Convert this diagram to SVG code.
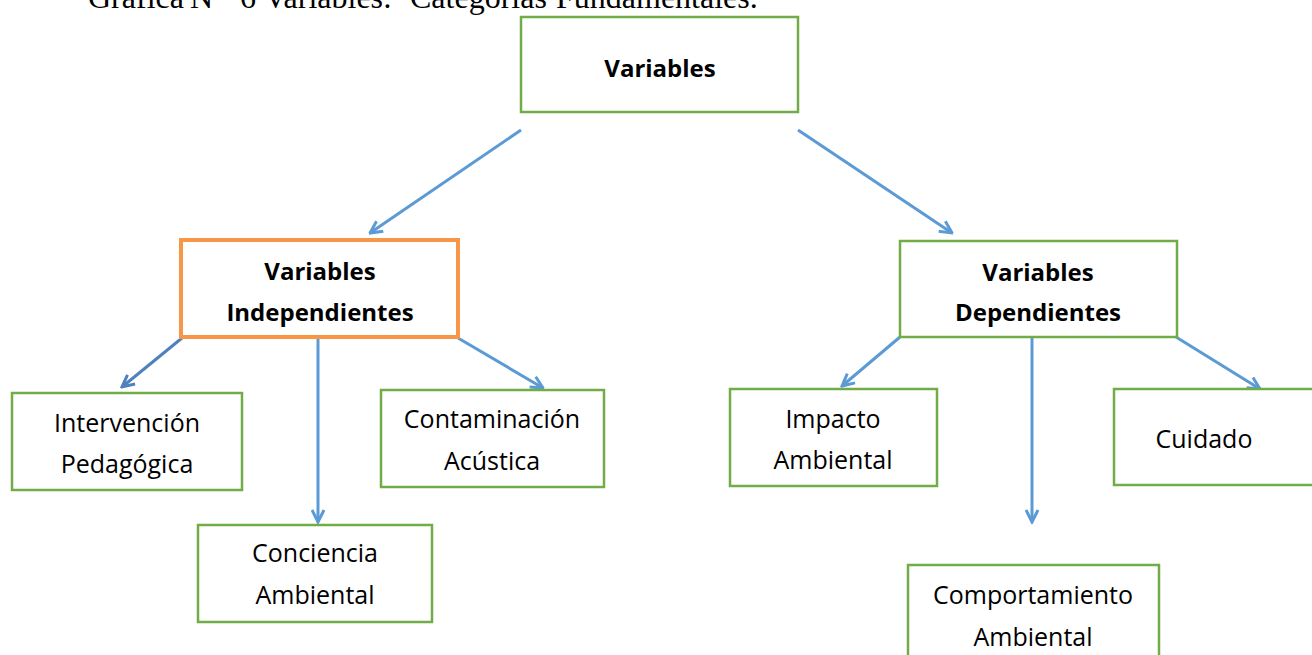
<svg xmlns="http://www.w3.org/2000/svg" width="1312" height="655" viewBox="0 0 1312 655">
<style>
.box{fill:#fff;stroke:#70AD47;stroke-width:2.5}
.ind{fill:#fff;stroke:#F79646;stroke-width:4}
.t{font-family:"Open Sans",Lato,sans-serif;font-size:25px;fill:#000;text-anchor:middle}
.b{font-weight:bold;font-size:24px}
.c{stroke:#5B9BD5;stroke-width:3;fill:none;marker-end:url(#ah)}
.title{font-family:"Liberation Serif",serif;font-size:32px;fill:#000}
</style>
<defs>
<marker id="ah" viewBox="0 0 10 10" refX="9" refY="5" markerWidth="5" markerHeight="5" orient="auto" markerUnits="strokeWidth">
<path d="M1,1 L9,5 L1,9" fill="none" stroke="#5B9BD5" stroke-width="2"/>
</marker>
<marker id="ah2" viewBox="0 0 10 10" refX="9" refY="5" markerWidth="5" markerHeight="5" orient="auto" markerUnits="strokeWidth">
<path d="M1,1 L9,5 L1,9" fill="none" stroke="#4F81BD" stroke-width="2"/>
</marker>
</defs>
<text class="title" y="8"><tspan x="88">Gráfica</tspan><tspan x="190">N°</tspan><tspan x="240">6</tspan><tspan x="264">Variables:</tspan><tspan x="410">Categorías</tspan><tspan x="556">Fundamentales.</tspan></text>
<g id="connectors">
<line class="c" x1="521" y1="130" x2="370" y2="233"/>
<line class="c" x1="798" y1="130" x2="952" y2="233"/>
<line x1="182" y1="338" x2="122" y2="387" stroke="#4F81BD" stroke-width="3" marker-end="url(#ah2)"/>
<line class="c" x1="318" y1="338" x2="318" y2="522"/>
<line class="c" x1="458" y1="338" x2="543" y2="388"/>
<line class="c" x1="900" y1="337" x2="842" y2="386"/>
<line class="c" x1="1032" y1="337" x2="1032" y2="522"/>
<line class="c" x1="1176" y1="337" x2="1260" y2="389"/>
</g>
<g id="n-variables">
<rect class="box" x="521" y="17" width="277" height="95"/>
<text class="t b" x="660" y="77">Variables</text>
</g>
<g id="n-independientes">
<rect class="ind" x="181" y="240" width="277" height="97"/>
<text class="t b" x="320" y="280">Variables</text>
<text class="t b" x="320" y="321">Independientes</text>
</g>
<g id="n-dependientes">
<rect class="box" x="900" y="241" width="277" height="96"/>
<text class="t b" x="1038" y="281">Variables</text>
<text class="t b" x="1038" y="321">Dependientes</text>
</g>
<g id="n-intervencion">
<rect class="box" x="12" y="393" width="230" height="97"/>
<text class="t" x="127" y="432">Intervención</text>
<text class="t" x="127" y="473">Pedagógica</text>
</g>
<g id="n-contaminacion">
<rect class="box" x="381" y="390" width="223" height="97"/>
<text class="t" x="492" y="428">Contaminación</text>
<text class="t" x="492" y="470">Acústica</text>
</g>
<g id="n-conciencia">
<rect class="box" x="198" y="525" width="234" height="97"/>
<text class="t" x="315" y="562">Conciencia</text>
<text class="t" x="315" y="604">Ambiental</text>
</g>
<g id="n-impacto">
<rect class="box" x="730" y="389" width="207" height="97"/>
<text class="t" x="833" y="428">Impacto</text>
<text class="t" x="833" y="469">Ambiental</text>
</g>
<g id="n-cuidado">
<rect class="box" x="1114" y="389" width="200" height="96"/>
<text class="t" x="1204" y="448">Cuidado</text>
</g>
<g id="n-comportamiento">
<rect class="box" x="908" y="565" width="251" height="95"/>
<text class="t" x="1033" y="604">Comportamiento</text>
<text class="t" x="1033" y="646">Ambiental</text>
</g>
</svg>
